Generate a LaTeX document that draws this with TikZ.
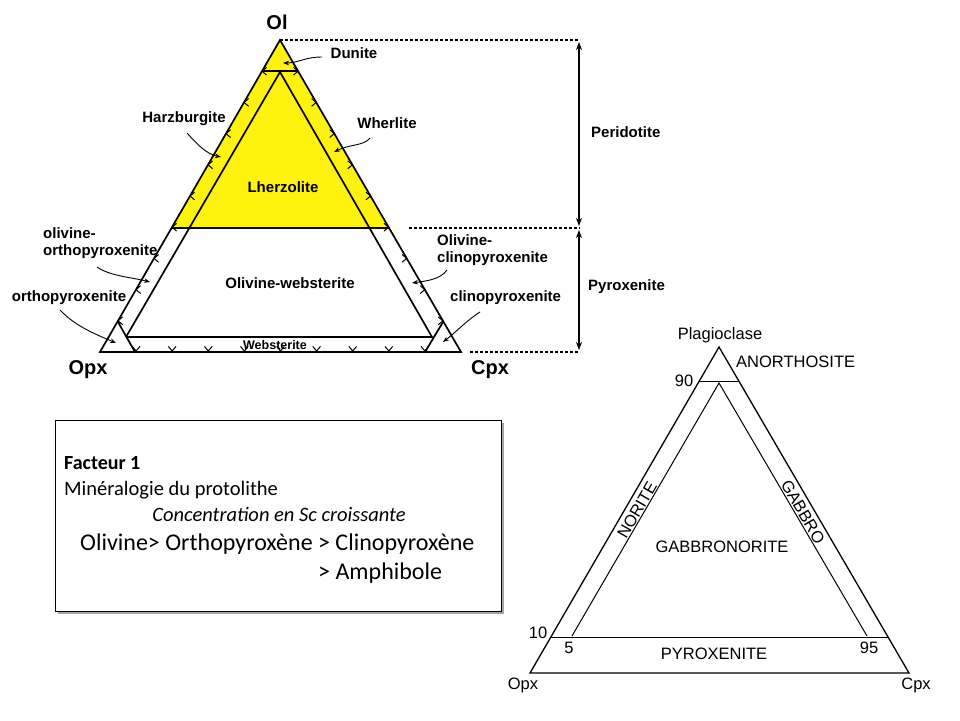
\documentclass[tikz,border=0pt]{standalone}
\usepackage{fontspec}
\newfontfamily\arialf{Liberation Sans}
\newfontfamily\calibf{Carlito}
\usetikzlibrary{arrows.meta}
\tikzset{
  lbl/.style={font=\arialf\bfseries\fontsize{15}{16.5}\selectfont, inner sep=0pt, align=left},
  bigl/.style={font=\arialf\bfseries\fontsize{20}{22}\selectfont, inner sep=0pt},
  edgeline/.style={line width=1.7pt, line join=miter},
  chevron/.style={line width=1pt},
  leader/.style={line width=0.9pt, -{Stealth[length=6pt,width=4.5pt]}},
  dimarrow/.style={line width=1.6pt, {Stealth[length=8pt,width=6pt]}-{Stealth[length=8pt,width=6pt]}},
  dashline/.style={line width=1.4pt, dash pattern=on 3pt off 2pt},
  thinline/.style={line width=1pt},
  rlbl/.style={font=\arialf\fontsize{16.5}{18}\selectfont, inner sep=0pt},
  boxtxt/.style={font=\calibf\fontsize{20.5}{22}\selectfont, inner sep=0pt, anchor=base west},
}
\begin{document}
\begin{tikzpicture}[x=1pt,y=-1pt]
\useasboundingbox (0,0) rectangle (960,720);
\fill[white] (0,0) rectangle (960,720);

% ---------- left ternary diagram ----------
\coordinate (Ol) at (280,40);
\coordinate (Opx) at (100,352);
\coordinate (Cpx) at (461,352);
\coordinate (pl) at (172,228);
\coordinate (pr) at (389,228);
\coordinate (dl) at (262,71);
\coordinate (dr) at (298,71);
\coordinate (ia) at (280,72);
\coordinate (il) at (126,337);
\coordinate (ir) at (432,337);
\coordinate (cl1) at (118,322);
\coordinate (cl2) at (135,352);
\coordinate (cr1) at (443,322);
\coordinate (cr2) at (425,352);

\fill[yellow!95!white] (Ol) -- (pl) -- (pr) -- cycle;
\draw[edgeline] (Ol) -- (Opx) -- (Cpx) -- cycle;
\draw[edgeline] (dl) -- (dr);
\draw[edgeline] (pl) -- (pr);
\draw[edgeline] (il) -- (ia) -- (ir) -- (il);
\draw[edgeline] (cl1) -- (cl2);
\draw[edgeline] (cr1) -- (cr2);

% tick chevrons
\foreach \k in {1,...,9}{
  \draw[chevron] ({280-18*\k},{40+31.2*\k}) ++(40:6) -- ++(220:6) -- ++(-40:6);
  \draw[chevron] ({280+18.1*\k},{40+31.2*\k}) ++(140:6) -- ++(-40:6) -- ++(220:6);
  \draw[chevron] ({100+36.1*\k},351) ++(-50:6) -- ++(130:6) -- ++(-130:6);
}

% vertex labels
\node[bigl] (tOl) at (277,22) {Ol};
\node[bigl] (tOpx) at (88,370) {Opx};
\node[bigl] (tCpx) at (490,370) {Cpx};

% region labels
\node[lbl] (tDun) at (354,53) {Dunite};
\node[lbl] (tHarz) at (184,119) {Harzburgite};
\node[lbl] (tWher) at (387,123) {Wherlite};
\node[lbl] (tLher) at (283,187) {Lherzolite};
\node[lbl, anchor=west] (tOlOpx) at (43,243) {olivine-\\orthopyroxenite};
\node[lbl] (tOpxn) at (69,298) {orthopyroxenite};
\node[lbl] (tOlWeb) at (290,283) {Olivine-websterite};
\node[lbl, font=\arialf\bfseries\fontsize{12.5}{13}\selectfont] (tWeb) at (275,345) {Websterite};
\node[lbl, anchor=west] (tOlCpx) at (437,250) {Olivine-\\clinopyroxenite};
\node[lbl, anchor=west] (tCpxn) at (450,298) {clinopyroxenite};
\node[lbl, anchor=west] (tPer) at (591,132) {Peridotite};
\node[lbl, anchor=west] (tPyr) at (588,287) {Pyroxenite};

% leaders
\coordinate (dunS) at (322,57);   \coordinate (dunE) at (283,63);
\coordinate (harS) at (187,133);  \coordinate (harE) at (221,157);
\coordinate (wheS) at (370,138);  \coordinate (wheE) at (334,152);
\coordinate (oopS) at (97,267);   \coordinate (oopE) at (150,282);
\coordinate (opxS) at (60,310);   \coordinate (opxE) at (116,343);
\coordinate (ocpS) at (447,270);  \coordinate (ocpE) at (412,283);
\coordinate (cpxS) at (480,312);  \coordinate (cpxE) at (443,342);
\draw[leader] (dunS) .. controls (305,57) and (298,63) .. (dunE);
\draw[leader] (harS) .. controls (196,143) and (206,154) .. (harE);
\draw[leader] (wheS) .. controls (364,146) and (350,144) .. (wheE);
\draw[leader] (oopS) .. controls (110,276) and (130,277) .. (oopE);
\draw[leader] (opxS) .. controls (75,326) and (95,334) .. (opxE);
\draw[leader] (ocpS) .. controls (440,280) and (425,281) .. (ocpE);
\draw[leader] (cpxS) .. controls (466,321) and (455,333) .. (cpxE);

% dashed guides and dimension arrows
\coordinate (dT) at (580,40);
\coordinate (dMs) at (409,228);
\coordinate (dM) at (580,228);
\coordinate (dBs) at (470,352);
\coordinate (dB) at (580,352);
\draw[dashline] (Ol) -- (dT);
\draw[dashline] (dMs) -- (dM);
\draw[dashline] (dBs) -- (dB);
\coordinate (a1) at (579,42);  \coordinate (a2) at (579,226);
\coordinate (a3) at (579,230); \coordinate (a4) at (579,350);
\draw[dimarrow] (a1) -- (a2);
\draw[dimarrow] (a3) -- (a4);

% ---------- text box ----------
\fill[black!35] (58,423) rectangle (504,614);
\draw[line width=1pt, fill=white] (55,420) rectangle (501,611);
\node[boxtxt, font=\calibf\bfseries\fontsize{20}{22}\selectfont] (f1) at (64,469) {Facteur 1};
\node[boxtxt] (f2) at (64,495) {Minéralogie du protolithe};
\node[boxtxt, anchor=base, font=\calibf\itshape\fontsize{20.5}{22}\selectfont] (f3) at (279,521) {Concentration en Sc croissante};
\node[boxtxt, font=\calibf\fontsize{24}{26}\selectfont] (f4) at (80,550) {Olivine> Orthopyroxène > Clinopyroxène};
\node[boxtxt, font=\calibf\fontsize{24}{26}\selectfont] (f5) at (318,579) {> Amphibole};

% ---------- right ternary diagram ----------
\coordinate (P) at (719,347);
\coordinate (O2) at (530,673);
\coordinate (C2) at (909,673);
\coordinate (n1) at (699,381);
\coordinate (n2) at (738,381);
\coordinate (J) at (719,383);
\coordinate (jl) at (572,636);
\coordinate (jr) at (867,636);
\coordinate (t1) at (551,637);
\coordinate (t2) at (889,637);
\draw[thinline, line width=1.3pt] (P) -- (O2) -- (C2) -- cycle;
\draw[thinline] (n1) -- (n2);
\draw[thinline] (jl) -- (J) -- (jr);
\draw[thinline] (t1) -- (t2);

\node[rlbl] (rPl) at (720,335) {Plagioclase};
\node[rlbl, anchor=west] (rAn) at (736,362) {ANORTHOSITE};
\node[rlbl] (r90) at (684,381) {90};
\node[rlbl, rotate=60] (rNo) at (637,510) {NORITE};
\node[rlbl, rotate=-60] (rGa) at (803,512) {GABBRO};
\node[rlbl] (rGN) at (722,547) {GABBRONORITE};
\node[rlbl] (r10) at (538,633) {10};
\node[rlbl] (r5) at (569,648) {5};
\node[rlbl] (r95) at (869,648) {95};
\node[rlbl] (rPy) at (714,654) {PYROXENITE};
\node[rlbl] (rOpx) at (523,685) {Opx};
\node[rlbl] (rCpx) at (916,685) {Cpx};
\end{tikzpicture}
\end{document}
